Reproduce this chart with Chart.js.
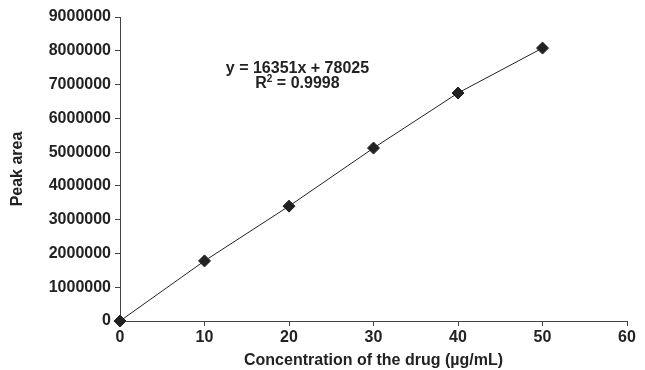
<!DOCTYPE html>
<html>
<head>
<meta charset="utf-8">
<script src="https://cdn.jsdelivr.net/npm/chart.js@4"></script>
<style>
  body { margin: 0; background: #fff; }
</style>
</head>
<body>
<canvas id="myChart" width="645" height="370"></canvas>
<script>
// calibration points
const concentration = [0, 10, 20, 30, 40, 50];
const peakArea = [0, 1780000, 3400000, 5120000, 6750000, 8080000];

const equationText = "y = 16351x + 78025";
const r2Text = "0.9998";

const FAMILY = "'Liberation Sans', Arial, sans-serif";
const font = { family: FAMILY, size: 16, weight: 'bold' };

const equationLabel = {
    id: 'equationLabel',
    afterDatasetsDraw(chart) {
        const ctx = chart.ctx;
        const xs = chart.scales.x;
        const cx = xs.getPixelForValue(21);
        ctx.save();
        ctx.fillStyle = '#222';
        ctx.font = "bold 16px " + FAMILY;
        ctx.textAlign = 'center';
        ctx.textBaseline = 'alphabetic';
        ctx.fillText(equationText, cx, 73);
        // R² line with a small superscript
        const rest = " = " + r2Text;
        const wR = ctx.measureText("R").width;
        const wRest = ctx.measureText(rest).width;
        ctx.font = "bold 10px " + FAMILY;
        const w2 = ctx.measureText("2").width;
        const total = wR + w2 + wRest;
        let x = cx - total / 2;
        const y = 88;
        ctx.textAlign = 'left';
        ctx.font = "bold 16px " + FAMILY;
        ctx.fillText("R", x, y);
        x += wR;
        ctx.font = "bold 10px " + FAMILY;
        ctx.fillText("2", x, y - 6);
        x += w2;
        ctx.font = "bold 16px " + FAMILY;
        ctx.fillText(rest, x, y);
        ctx.restore();
    }
};

const ctx = document.getElementById('myChart').getContext('2d');
const myChart = new Chart(ctx, {
    type: 'scatter',
    data: {
        datasets: [
            {
                label: 'Peak area',
                data: concentration.map((c, i) => ({ x: c, y: peakArea[i] })),
                pointStyle: 'rectRot',
                pointRadius: 6,
                backgroundColor: '#222',
                borderColor: '#222',
                borderWidth: 1,
                showLine: true,
                clip: false
            }
        ]
    },
    options: {
        responsive: false,
        animation: false,
        layout: { padding: { top: 17, right: 18, left: 0, bottom: 0 } },
        plugins: {
            legend: { display: false },
            tooltip: { enabled: false }
        },
        scales: {
            x: {
                type: 'linear',
                min: 0,
                max: 60,
                ticks: { stepSize: 10, color: '#222', font: font, padding: 2 },
                grid: { drawOnChartArea: false, tickLength: 5, color: '#444' },
                border: { color: '#444', width: 1 },
                title: {
                    display: true,
                    text: 'Concentration of the drug (\u00b5g/mL)',
                    color: '#222',
                    font: font,
                    padding: { top: 7, bottom: 0 }
                },
                afterFit(scale) { scale.height = 49; }
            },
            y: {
                min: 0,
                max: 9000000,
                ticks: {
                    stepSize: 1000000,
                    color: '#222',
                    font: font,
                    padding: 4,
                    callback: v => String(v)
                },
                grid: { drawOnChartArea: false, tickLength: 5, color: '#444' },
                border: { color: '#444', width: 1 },
                title: {
                    display: true,
                    text: 'Peak area',
                    color: '#222',
                    font: font,
                    padding: { top: 8, bottom: 0 }
                },
                afterFit(scale) { scale.width = 120; }
            }
        }
    },
    plugins: [equationLabel]
});
</script>
</body>
</html>
